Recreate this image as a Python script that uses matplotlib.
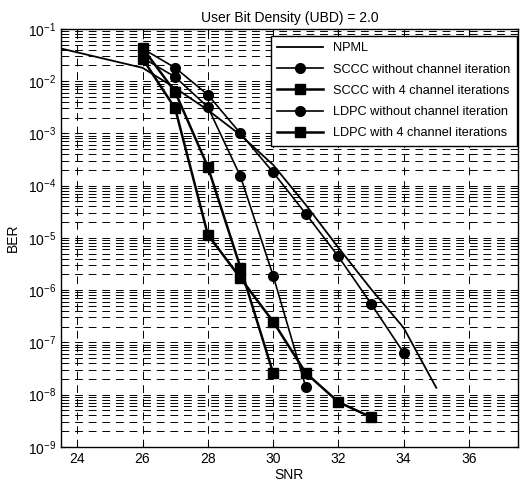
import numpy as np
import matplotlib
matplotlib.use('Agg')
import matplotlib.pyplot as plt
from matplotlib.ticker import LogLocator, NullFormatter, FixedLocator

plt.rcParams['font.family'] = ['Liberation Sans', 'DejaVu Sans']

# data
snr_npml = [23, 26, 27, 28, 29, 30, 31, 32, 33, 34, 35]
ber_npml = [5.0e-2, 1.8e-2, 7.4e-3, 2.8e-3, 9.3e-4, 2.5e-4, 4.3e-5, 6.5e-6, 1.05e-6, 1.9e-7, 1.35e-8]

snr_sccc = [26, 27, 28, 29, 30, 31, 32, 33, 34]
ber_sccc = [4.2e-2, 1.8e-2, 5.5e-3, 1.0e-3, 1.8e-4, 2.9e-5, 4.4e-6, 5.5e-7, 6.3e-8]

snr_sccc4 = [26, 27, 28, 29, 30, 31, 32, 33]
ber_sccc4 = [2.7e-2, 3.0e-3, 1.15e-5, 1.7e-6, 2.5e-7, 2.6e-8, 7.2e-9, 3.7e-9]

snr_ldpc = [26, 27, 28, 29, 30, 31]
ber_ldpc = [2.8e-2, 1.2e-2, 3.2e-3, 1.5e-4, 1.9e-6, 1.4e-8]

snr_ldpc4 = [26, 27, 28, 29, 30]
ber_ldpc4 = [4.3e-2, 6.2e-3, 2.3e-4, 2.7e-6, 2.6e-8]

fig = plt.figure(figsize=(5.21, 4.82), dpi=100)
ax = fig.add_axes([0.117, 0.073, 0.877, 0.867])

ax.semilogy(snr_npml, ber_npml, '-', color='black', lw=1.3, label='NPML')
ax.semilogy(snr_sccc, ber_sccc, '-o', color='black', lw=1.2, ms=7,
            label='SCCC without channel iteration')
ax.semilogy(snr_sccc4, ber_sccc4, '-s', color='black', lw=1.8, ms=7,
            label='SCCC with 4 channel iterations')
ax.semilogy(snr_ldpc, ber_ldpc, '-o', color='black', lw=1.2, ms=7,
            label='LDPC without channel iteration')
ax.semilogy(snr_ldpc4, ber_ldpc4, '-s', color='black', lw=1.8, ms=7,
            label='LDPC with 4 channel iterations')

ax.set_xlim(23.5, 37.5)
ax.set_ylim(1e-9, 1e-1)
ax.xaxis.set_major_locator(FixedLocator([24, 26, 28, 30, 32, 34, 36]))
ax.yaxis.set_major_locator(LogLocator(base=10, numticks=20))
ax.yaxis.set_minor_locator(LogLocator(base=10, subs=np.arange(2, 10), numticks=20))
ax.yaxis.set_minor_formatter(NullFormatter())

ax.grid(True, which='major', axis='both', color='black', lw=0.7, linestyle=(0, (8, 6)))
ax.grid(True, which='minor', axis='y', color='black', lw=0.7, linestyle=(0, (8, 6)))
ax.tick_params(which='both', direction='in', top=True, right=True, labelsize=10)
for s in ax.spines.values():
    s.set_linewidth(1.0)

ax.set_title('User Bit Density (UBD) = 2.0', fontsize=10, pad=5)
ax.set_xlabel('SNR', fontsize=10, labelpad=2)
ax.set_ylabel('BER', fontsize=10, labelpad=6)

leg = ax.legend(loc='upper right', bbox_to_anchor=(0.998, 0.983), fontsize=9.2,
                handlelength=3.6, borderaxespad=0.0, borderpad=0.5,
                fancybox=False, framealpha=1, edgecolor='black', labelspacing=0.72)
leg.get_frame().set_linewidth(1.0)

fig.savefig('out.png', dpi=100)
